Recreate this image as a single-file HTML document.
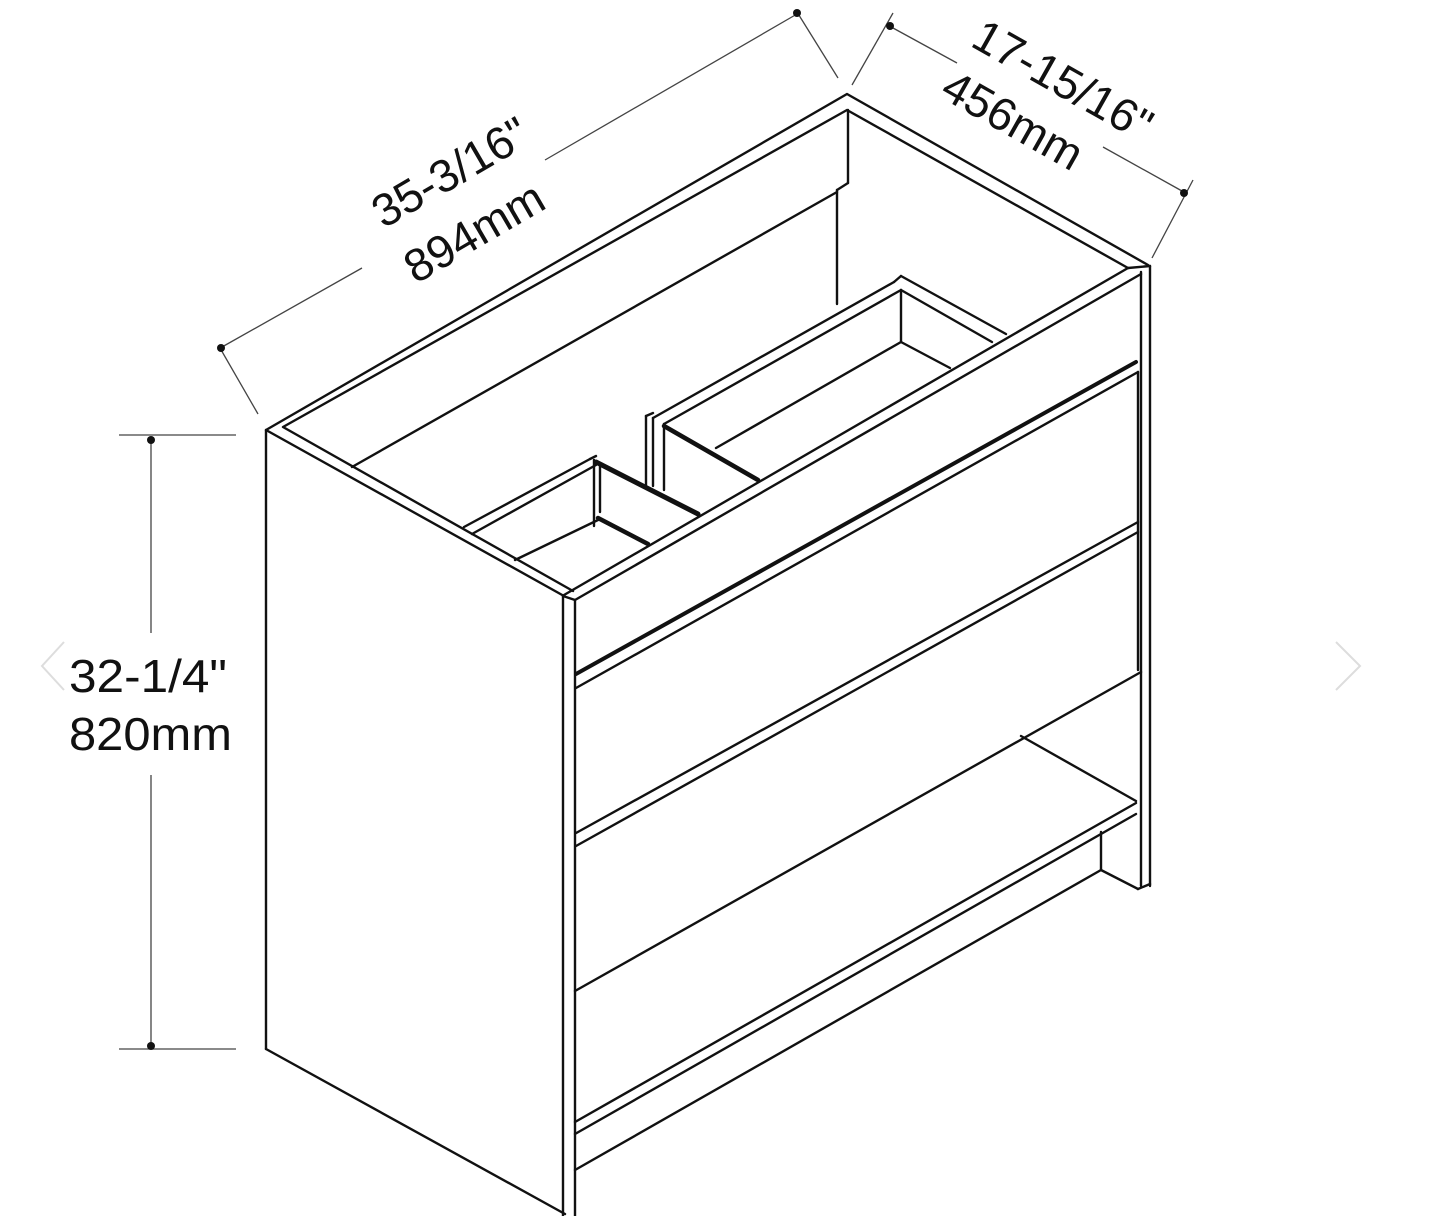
<!DOCTYPE html>
<html><head><meta charset="utf-8"><style>
html,body{margin:0;padding:0;background:#fff;}
svg{display:block;}
text{font-family:"Liberation Sans",Arial,sans-serif;fill:#111;}
</style></head><body>
<svg width="1432" height="1216" viewBox="0 0 1432 1216" xmlns="http://www.w3.org/2000/svg">
<g stroke="#111" stroke-width="2.4" fill="none" stroke-linejoin="round" stroke-linecap="round">
<polyline points="564,596 266,430 847,94 1148,265"/>
<polyline points="573,591 283,427 847,110 1128,268"/>
<line x1="266" y1="430" x2="266" y2="1049"/>
<line x1="266" y1="1049" x2="565" y2="1214"/>
<line x1="563" y1="596" x2="563" y2="1216"/>
<line x1="575" y1="600" x2="575" y2="1216"/>
<line x1="563" y1="596" x2="575" y2="600"/>
<line x1="1141" y1="272" x2="1141" y2="886"/>
<line x1="1150" y1="266" x2="1150" y2="886"/>
<line x1="1128" y1="268" x2="1150" y2="266"/>
<line x1="564" y1="595" x2="1128" y2="268"/>
<line x1="575" y1="600" x2="1141" y2="274"/>
<line x1="848" y1="110" x2="848" y2="183"/>
<line x1="848" y1="183" x2="837" y2="190"/>
<line x1="837" y1="190" x2="837" y2="304"/>
<line x1="352" y1="467" x2="837" y2="192"/>
<line x1="464" y1="527" x2="590" y2="459"/>
<line x1="472" y1="534" x2="596" y2="465"/>
<line x1="590" y1="459" x2="596" y2="456"/>
<line x1="594" y1="460" x2="594" y2="526"/>
<line x1="600" y1="465" x2="600" y2="512"/>
<line x1="515" y1="560" x2="598" y2="520"/>
<line x1="596" y1="462" x2="698" y2="514" stroke-width="5"/>
<line x1="598" y1="518" x2="648" y2="544" stroke-width="4.5"/>
<line x1="646" y1="416" x2="646" y2="486"/>
<line x1="653" y1="418" x2="653" y2="486"/>
<line x1="646" y1="416" x2="653" y2="413"/>
<line x1="653" y1="418" x2="894" y2="282"/>
<line x1="664" y1="424" x2="901" y2="290"/>
<line x1="894" y1="282" x2="901" y2="276"/>
<line x1="901" y1="276" x2="1006" y2="334"/>
<line x1="901" y1="290" x2="992" y2="342"/>
<line x1="901" y1="290" x2="901" y2="342"/>
<line x1="901" y1="342" x2="950" y2="368"/>
<line x1="716" y1="448" x2="901" y2="342"/>
<line x1="664" y1="424" x2="664" y2="490"/>
<line x1="664" y1="426" x2="758" y2="480" stroke-width="4.5"/>
<line x1="576" y1="674" x2="1136" y2="362" stroke-width="4"/>
<line x1="576" y1="688" x2="1138" y2="372"/>
<line x1="1138" y1="372" x2="1138" y2="670"/>
<line x1="576" y1="833" x2="1138" y2="522"/>
<line x1="576" y1="846" x2="1138" y2="532"/>
<line x1="575" y1="991" x2="1141" y2="672"/>
<line x1="1021" y1="736" x2="1136" y2="801"/>
<line x1="575" y1="1122" x2="1136" y2="803"/>
<line x1="575" y1="1134" x2="1136" y2="814"/>
<line x1="575" y1="1170" x2="1101" y2="870"/>
<line x1="1101" y1="832" x2="1101" y2="870"/>
<line x1="1101" y1="870" x2="1138" y2="889"/>
<line x1="1138" y1="889" x2="1150" y2="884"/>
</g>
<g stroke="#444" stroke-width="1.3" fill="none">
<line x1="222" y1="347" x2="362" y2="268"/>
<line x1="545" y1="160" x2="797" y2="14"/>
<line x1="220" y1="348" x2="258" y2="414"/>
<line x1="797" y1="12" x2="838" y2="78"/>
<line x1="893" y1="28" x2="957" y2="63"/>
<line x1="1103" y1="147" x2="1182" y2="191"/>
<line x1="893" y1="13" x2="852" y2="85"/>
<line x1="1193" y1="180" x2="1152" y2="258"/>
<line x1="119" y1="435" x2="236" y2="435"/>
<line x1="119" y1="1049" x2="236" y2="1049"/>
<line x1="151" y1="438" x2="151" y2="633"/>
<line x1="151" y1="775" x2="151" y2="1046"/>
</g>
<g fill="#111">
<circle cx="221" cy="348" r="4"/><circle cx="797" cy="13" r="4"/>
<circle cx="890" cy="26" r="4"/><circle cx="1184" cy="193" r="4"/>
<circle cx="151" cy="440" r="4"/><circle cx="151" cy="1046" r="4"/>
</g>
<text x="450" y="188" font-size="46" text-anchor="middle" transform="rotate(-30.2 450 172)">35-3/16"</text>
<text x="474" y="248" font-size="46" text-anchor="middle" transform="rotate(-30.2 474 232)">894mm</text>
<text x="1063" y="96" font-size="46" text-anchor="middle" transform="rotate(29.5 1063 80)">17-15/16"</text>
<text x="1013" y="136" font-size="46" text-anchor="middle" transform="rotate(29.5 1013 120)">456mm</text>
<text x="69" y="692" font-size="46" textLength="158" lengthAdjust="spacingAndGlyphs">32-1/4"</text>
<text x="69" y="750" font-size="46" textLength="163" lengthAdjust="spacingAndGlyphs">820mm</text>
<g stroke="#ddd" stroke-width="2" fill="none">
<polyline points="64,642 42,666 64,690"/>
<polyline points="1336,642 1360,666 1336,690"/>
</g>
</svg>
</body></html>
